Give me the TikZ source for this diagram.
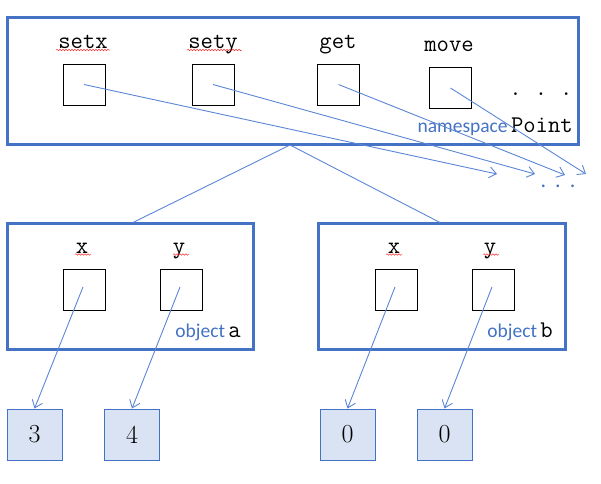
\documentclass[tikz,border=0pt]{standalone}
\usepackage{fontspec}
\setmainfont{Latin Modern Roman}
\newfontfamily\labelsans{Carlito}
\newcommand\labelmono{\ttfamily}
\usetikzlibrary{arrows.meta,decorations.pathmorphing}
\definecolor{frameblue}{HTML}{4472C4}
\definecolor{linkblue}{HTML}{5B86D6}
\definecolor{cellfill}{HTML}{DAE3F3}
\tikzset{
  scopebox/.style={draw=frameblue,line width=3pt},
  slot/.style={draw=black,line width=1pt,minimum width=42pt,minimum height=41pt,inner sep=0pt},
  valuebox/.style={draw=frameblue,fill=cellfill,line width=1pt,minimum width=55pt,minimum height=51pt,inner sep=0pt,font=\fontsize{26}{28}\selectfont},
  fieldname/.style={anchor=base,inner sep=0pt,font=\labelmono\fontsize{24}{26}\selectfont},
  link/.style={draw=linkblue,line width=0.9pt},
  ptr/.style={link,-{Straight Barb[length=7pt,width=11pt,line width=0.9pt]}},
  squiggle/.style={draw=red!80,line width=0.5pt,decorate,decoration={snake,amplitude=0.8pt,segment length=3pt}},
  tag/.style={anchor=base east,inner sep=0pt},
}
\begin{document}
\begin{tikzpicture}[x=1pt,y=-1pt]
\useasboundingbox (0,0) rectangle (601,483);

% namespace Point
\node[scopebox,minimum width=571pt,minimum height=127pt,inner sep=0pt] (ns) at (292.5,80.5) {};
\node[fieldname] (lsetx) at (83,48) {setx};
\node[fieldname] (lsety) at (213,48) {sety};
\node[fieldname] (lget)  at (338,48) {get};
\node[fieldname] (lmove) at (449,51) {move};
\draw[squiggle] (56,50) -- (110,50);
\draw[squiggle] (187,50) -- (242,50);
\node[slot] (setx) at (84,84.5) {};
\node[slot] (sety) at (213,84.5) {};
\node[slot] (get)  at (338.5,84.5) {};
\node[slot] (move) at (450.5,88) {};
\node[fieldname] (more) at (541,95) {.\hspace{13pt}.\hspace{13pt}.};
\node[tag] (nsname) at (573,132) {{\labelsans\fontsize{19.5}{22}\selectfont\color{frameblue}namespace} {\labelmono\fontsize{24}{26}\selectfont Point}};

% method targets
\coordinate (t1) at (497,174);
\coordinate (t2) at (535,174);
\coordinate (t3) at (565,175);
\coordinate (t4) at (586,174);
\node[anchor=base,inner sep=0pt,text=frameblue,font=\labelsans\fontsize{22}{24}\selectfont] (tmore) at (558,187) {.\hspace{9pt}.\hspace{9pt}.};
\draw[ptr] (setx.center) -- (t1);
\draw[ptr] (sety.center) -- (t2);
\draw[ptr] (get.center) -- (t3);
\draw[ptr] (move.center) -- (t4);

% objects
\node[scopebox,minimum width=246pt,minimum height=126pt,inner sep=0pt] (oa) at (130,286) {};
\node[scopebox,minimum width=247pt,minimum height=126pt,inner sep=0pt] (ob) at (441.5,286) {};
\coordinate (nsfoot) at (290,145);
\draw[link] (nsfoot) -- (133,222.5);
\draw[link] (nsfoot) -- (440,222.5);

\node[fieldname] (lax) at (82,253) {x};
\node[fieldname] (lay) at (179,253) {y};
\node[fieldname] (lbx) at (394,253) {x};
\node[fieldname] (lby) at (490,253) {y};
\draw[squiggle] (75,254.5) -- (91,254.5);
\draw[squiggle] (173,254.5) -- (189,254.5);
\draw[squiggle] (386,254.5) -- (402,254.5);
\draw[squiggle] (483,254.5) -- (499,254.5);

\node[slot] (ax) at (84,289.5) {};
\node[slot] (ay) at (181.5,289.5) {};
\node[slot] (bx) at (396,289.5) {};
\node[slot] (by) at (493,289.5) {};

\node[tag] (oaname) at (241,337.5) {{\labelsans\fontsize{19.5}{22}\selectfont\color{frameblue}object} {\labelmono\fontsize{24}{26}\selectfont a}};
\node[tag] (obname) at (553,337.5) {{\labelsans\fontsize{19.5}{22}\selectfont\color{frameblue}object} {\labelmono\fontsize{24}{26}\selectfont b}};

% values
\node[valuebox] (va) at (34.5,434.5) {3};
\node[valuebox] (vb) at (132,434.5) {4};
\node[valuebox] (vc) at (347.5,434.5) {0};
\node[valuebox] (vd) at (444.5,434.5) {0};

\draw[ptr] (83,287) -- (va.north);
\draw[ptr] (180,287) -- (vb.north);
\draw[ptr] (395,287) -- (vc.north);
\draw[ptr] (492,287) -- (vd.north);
\end{tikzpicture}
\end{document}
